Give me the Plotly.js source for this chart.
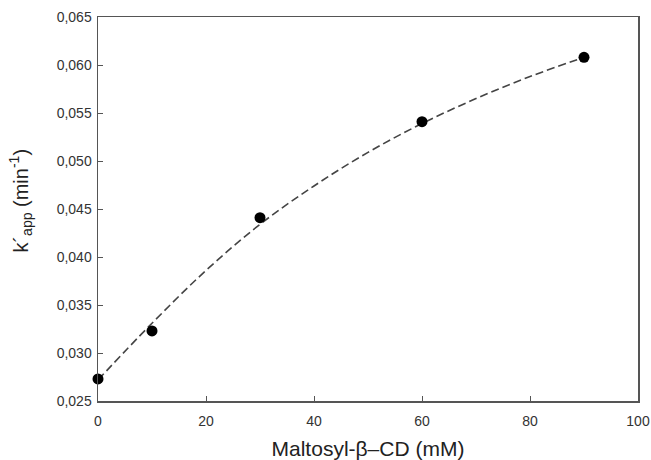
<!DOCTYPE html>
<html>
<head>
<meta charset="utf-8">
<script src="https://cdn.plot.ly/plotly-3.0.1.min.js"></script>
<style>html,body{margin:0;padding:0;background:#fff;}#chart{width:651px;height:460px;}</style>
</head>
<body>
<div id="chart"></div>
<script>
// Measured data points
const concMM = [0, 10, 30, 60, 90];
const kApp = [0.0273, 0.0323, 0.0441, 0.0541, 0.0608];

// Fitted curve
const fitX = [0, 10, 20, 30, 40, 50, 60, 70, 80, 90];
const fitY = [0.0272, 0.0331, 0.0386, 0.0434, 0.0474, 0.0509, 0.0539, 0.0565, 0.0588, 0.0608];

const xTicks = [0, 20, 40, 60, 80, 100];
const yTicks = [0.025, 0.030, 0.035, 0.040, 0.045, 0.050, 0.055, 0.060, 0.065];

const traces = [
  {x: fitX, y: fitY, mode: 'lines', line: {shape: 'spline', color: '#444', width: 1.6, dash: '8px,4px'}, hoverinfo: 'skip'},
  {x: concMM, y: kApp, mode: 'markers', marker: {color: '#000', size: 11}, cliponaxis: false}
];

const FONT = 'Liberation Sans, Arial, sans-serif';
const axisCommon = {
  showgrid: false, zeroline: false, showline: true, linecolor: '#555', linewidth: 1.5,
  mirror: true, ticks: 'inside', ticklen: 5, tickwidth: 1, tickcolor: '#555',
  tickfont: {family: FONT, size: 14, color: '#333'}
};

const layout = {
  width: 651, height: 460,
  margin: {l: 98, r: 13, t: 17, b: 59},
  paper_bgcolor: '#fff', plot_bgcolor: '#fff',
  separators: ',.',
  showlegend: false,
  xaxis: Object.assign({}, axisCommon, {
    range: [0, 100], tickvals: xTicks, ticktext: xTicks.map(String),
    ticklabelstandoff: 7,
    title: {text: 'Maltosyl-β–CD (mM)', font: {family: FONT, size: 21, color: '#222'}, standoff: 14}
  }),
  yaxis: Object.assign({}, axisCommon, {
    range: [0.025, 0.065], tickvals: yTicks, tickformat: '.3f',
    ticklabelstandoff: 2
  }),
  annotations: [{
    text: 'k´<sub>app</sub> (min<sup>-1</sup>)', xref: 'paper', yref: 'paper',
    x: -0.1426, y: 0.522, xanchor: 'center', yanchor: 'middle', textangle: -90,
    showarrow: false, font: {family: FONT, size: 20, color: '#222'}
  }]
};

Plotly.newPlot('chart', traces, layout, {displayModeBar: false, staticPlot: true});
</script>
</body>
</html>
